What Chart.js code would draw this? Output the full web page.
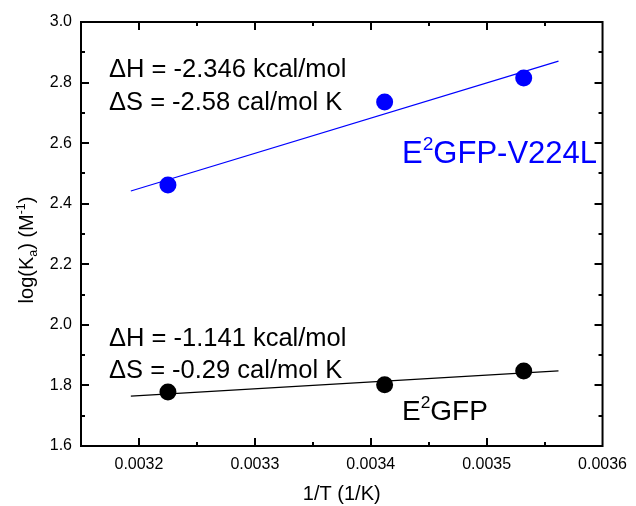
<!DOCTYPE html>
<html><head><meta charset="utf-8">
<script src="https://cdn.jsdelivr.net/npm/chart.js@4"></script>
<style>html,body{margin:0;padding:0;background:#fff}</style>
</head><body>
<canvas id="c" width="636" height="506" style="display:block;width:636px;height:506px"></canvas>
<script>
// ---- data ----
const invT = [0.003225, 0.003412, 0.003532];
const logKaV224L = [2.462, 2.736, 2.815];
const logKaE2GFP = [1.778, 1.802, 1.848];
const fitX = [0.003193, 0.003562];
const fitV224L = [2.442, 2.871];
const fitE2GFP = [1.765, 1.848];
const xTicks = [0.0032, 0.0033, 0.0034, 0.0035, 0.0036];
const yTicks = [1.6, 1.8, 2.0, 2.2, 2.4, 2.6, 2.8, 3.0];
const xRange = [0.00315, 0.0036];
const yRange = [1.6, 3.0];

const FONT = '"Liberation Sans", Arial, sans-serif';
const BLUE = '#0000ff';

function pts(xs, ys) { return xs.map((x, i) => ({x: x, y: ys[i]})); }

function drawRich(ctx, x, y, parts, size, color) {
  ctx.save();
  ctx.fillStyle = color;
  ctx.textBaseline = 'alphabetic';
  ctx.textAlign = 'left';
  let cx = x;
  for (const p of parts) {
    let s = size, dy = 0;
    if (p.sup) { s = size * 0.62; dy = -size * 0.42; }
    if (p.sub) { s = size * 0.62; dy = size * 0.2; }
    ctx.font = s + 'px ' + FONT;
    ctx.fillText(p.t, cx, y + dy);
    cx += ctx.measureText(p.t).width;
  }
  ctx.restore();
}

function richWidth(ctx, parts, size) {
  let w = 0;
  ctx.save();
  for (const p of parts) {
    ctx.font = ((p.sup || p.sub) ? size * 0.62 : size) + 'px ' + FONT;
    w += ctx.measureText(p.t).width;
  }
  ctx.restore();
  return w;
}

const framePlugin = {
  id: 'frame',
  afterDraw(chart) {
    const ctx = chart.ctx, a = chart.chartArea;
    const xs = chart.scales.x, ys = chart.scales.y;
    ctx.save();
    ctx.strokeStyle = '#000';
    ctx.lineWidth = 2;
    ctx.strokeRect(a.left, a.top, a.right - a.left, a.bottom - a.top);
    ctx.beginPath();
    const xmin = [];
    for (let i = 0; i < xTicks.length - 1; i++) xmin.push((xTicks[i] + xTicks[i + 1]) / 2);
    const ymin = [];
    for (let i = 0; i < yTicks.length - 1; i++) ymin.push((yTicks[i] + yTicks[i + 1]) / 2);
    const tickX = (vals, len) => {
      for (const v of vals) {
        const px = Math.round(xs.getPixelForValue(v));
        if (px <= a.left + 1 || px >= a.right - 1) continue;
        ctx.moveTo(px, a.bottom); ctx.lineTo(px, a.bottom - len);
        ctx.moveTo(px, a.top); ctx.lineTo(px, a.top + len);
      }
    };
    const tickY = (vals, len) => {
      for (const v of vals) {
        const py = Math.round(ys.getPixelForValue(v));
        if (py <= a.top + 1 || py >= a.bottom - 1) continue;
        ctx.moveTo(a.left, py); ctx.lineTo(a.left + len, py);
        ctx.moveTo(a.right, py); ctx.lineTo(a.right - len, py);
      }
    };
    tickX(xTicks, 8); tickX(xmin, 4);
    tickY(yTicks, 8); tickY(ymin, 4);
    ctx.stroke();
    ctx.restore();

    // annotations
    const AS = 25.5;
    drawRich(ctx, 109, 77, [{t: '\u0394H = -2.346 kcal/mol'}], AS, '#000');
    drawRich(ctx, 109, 110, [{t: '\u0394S = -2.58 cal/mol K'}], AS, '#000');
    drawRich(ctx, 109, 346, [{t: '\u0394H = -1.141 kcal/mol'}], AS, '#000');
    drawRich(ctx, 109, 378, [{t: '\u0394S = -0.29 cal/mol K'}], AS, '#000');
    drawRich(ctx, 402, 163, [{t: 'E'}, {t: '2', sup: true}, {t: 'GFP-V224L'}], 31, BLUE);
    drawRich(ctx, 402, 420, [{t: 'E'}, {t: '2', sup: true}, {t: 'GFP'}], 28, '#000');

    // x title
    ctx.save();
    ctx.font = '20px ' + FONT;
    ctx.fillStyle = '#000';
    ctx.textAlign = 'center';
    ctx.textBaseline = 'alphabetic';
    ctx.fillText('1/T (1/K)', (a.left + a.right) / 2, 500);
    ctx.restore();

    // y title (rotated)
    ctx.save();
    ctx.translate(33, 250);
    ctx.rotate(-Math.PI / 2);
    const parts = [{t: 'log(K'}, {t: 'a', sub: true}, {t: ') (M'}, {t: '-1', sup: true}, {t: ')'}];
    const w = richWidth(ctx, parts, 20);
    drawRich(ctx, -w / 2, 0, parts, 20, '#000');
    ctx.restore();
  }
};

new Chart(document.getElementById('c'), {
  type: 'scatter',
  data: {
    datasets: [
      {data: pts(invT, logKaV224L), backgroundColor: BLUE, borderWidth: 0, pointRadius: 8.5, pointHoverRadius: 8.5},
      {data: pts(invT, logKaE2GFP), backgroundColor: '#000', borderWidth: 0, pointRadius: 8.5, pointHoverRadius: 8.5},
      {data: pts(fitX, fitV224L), showLine: true, borderColor: BLUE, borderWidth: 1.2, pointRadius: 0, fill: false},
      {data: pts(fitX, fitE2GFP), showLine: true, borderColor: '#000', borderWidth: 1.2, pointRadius: 0, fill: false}
    ]
  },
  options: {
    responsive: false,
    animation: false,
    devicePixelRatio: 1,
    layout: {padding: {top: 22, right: 28, left: 0, bottom: 0}},
    plugins: {legend: {display: false}, tooltip: {enabled: false}},
    scales: {
      x: {
        type: 'linear', min: xRange[0], max: xRange[1],
        grid: {display: false, drawTicks: false},
        border: {display: false},
        afterBuildTicks: s => { s.ticks = xTicks.map(v => ({value: v})); },
        afterFit: s => { s.height = 60; },
        ticks: {color: '#000', padding: 9, font: {family: FONT, size: 16}, maxRotation: 0,
          callback: v => v.toFixed(4)}
      },
      y: {
        type: 'linear', min: yRange[0], max: yRange[1],
        grid: {display: false, drawTicks: false},
        border: {display: false},
        afterBuildTicks: s => { s.ticks = yTicks.map(v => ({value: v})); },
        afterFit: s => { s.width = 81; },
        ticks: {color: '#000', padding: 9, font: {family: FONT, size: 16},
          callback: v => v.toFixed(1)}
      }
    }
  },
  plugins: [framePlugin]
});
</script>
</body></html>
